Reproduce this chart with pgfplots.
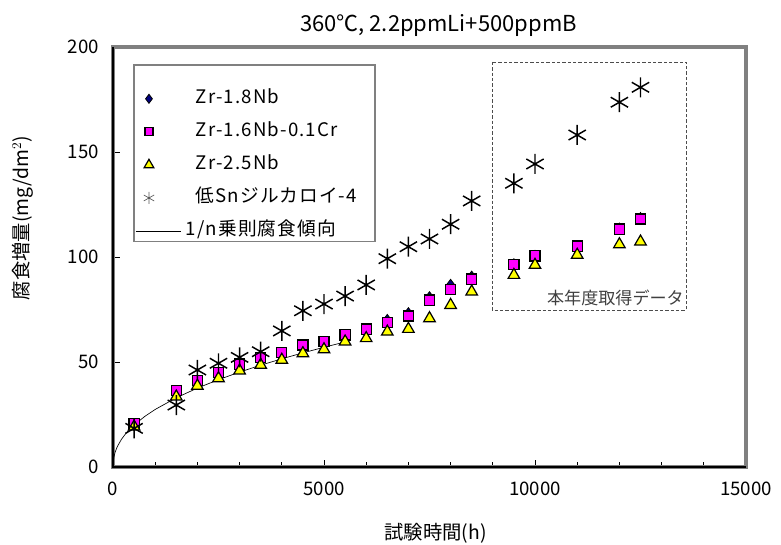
\documentclass[border=0pt]{standalone}
\usepackage{fontspec}
\setmainfont{Noto Sans CJK JP}
\usepackage{pgfplots}
\pgfplotsset{compat=1.18}
\definecolor{navyc}{RGB}{0,0,128}
\definecolor{magc}{RGB}{255,0,255}
\definecolor{yelc}{RGB}{255,255,0}
\definecolor{framec}{RGB}{128,128,128}
\pgfplotsset{
    legmark/.style={legend image code/.code={\path (0pt,-5pt) (34pt,5pt); \draw[##1, mark size=#1] plot coordinates {(10pt,0pt)};}},
    legast/.style={legend image code/.code={\path (0pt,-5pt) (34pt,5pt); \draw[##1, mark size=4.5pt, mark options={draw=black!65, line width=0.5pt}] plot coordinates {(10pt,0pt)};}},
    legline/.style={legend image code/.code={\path (0pt,-5pt) (34pt,5pt); \draw[##1] (0pt,0pt) -- (34pt,0pt);}},
}

\begin{document}
\begin{tikzpicture}[x=1pt,y=1pt]
\useasboundingbox (-84.75,-57.75) rectangle (501,350.25);
\begin{axis}[
    name=ax, at={(0,0)}, anchor=south west,
    scale only axis, width=474.75pt, height=315pt,
    xmin=0, xmax=15000, ymin=0, ymax=200,
    xtick={0,5000,10000,15000},
    minor xtick={1000,2000,3000,4000,6000,7000,8000,9000,11000,12000,13000,14000},
    ytick={0,50,100,150,200},
    xtick pos=bottom, ytick pos=left, tick align=inside,
    major tick length=5pt, minor tick length=4pt,
    tick style={black, line width=0.6pt},
    axis line style={draw=framec, line width=3pt},
    scaled x ticks=false,
    xticklabel style={font=\fontsize{14}{16}\selectfont, yshift=-7.5pt, /pgf/number format/.cd, 1000 sep={}},
    yticklabel style={font=\fontsize{14}{16}\selectfont, xshift=-7pt},
    /pgf/number format/assume math mode=true,
    clip=false,
    legend style={draw=none, fill=none, inner sep=0pt, at={(rel axis cs:0.0348,0.898)}, anchor=north west,
        font=\fontsize{14}{16}\selectfont\addfontfeature{LetterSpace=6}, row sep=11.8pt,
        nodes={inner sep=0pt, text height=10pt, text depth=3pt},
        /tikz/every odd column/.append style={column sep=11pt}},
    legend cell align=left,
]
% 1/n law trend line
\addplot[black, line width=0.5pt, forget plot] coordinates {
(0,0) (5,2.46) (20,4.62) (50,7.02) (100,9.62) (200,13.18) (300,15.85) (500,20.0)
(750,24.05) (1000,27.41) (1500,32.97) (2000,37.58) (2500,41.59) (3000,45.20)
(3500,48.48) (4000,51.52) (4500,54.35) (5000,57.02) (5500,59.55)
};
\addplot[only marks, mark=diamond*, mark size=4.2pt, mark options={fill=navyc, draw=black, line width=0.6pt}, legmark=3.4pt] coordinates {
(500,20.0) (1500,35.5) (2000,40.5) (2500,44.5) (3000,48.5) (3500,51.5) (4000,53.5)
(4500,57.0) (5000,59.0) (5500,62.0) (6000,65.5) (6500,70.0) (7000,73.2) (7500,80.8)
(8000,86.7) (8500,90.6) (9500,96.5) (10000,100.5) (11000,105.0) (12000,113.5) (12500,118.5)
};
\addlegendentry{Zr-1.8Nb}
\addplot[only marks, mark=square*, mark size=3.8pt, mark options={fill=magc, draw=black, line width=0.9pt}, legmark=3pt] coordinates {
(500,20.5) (1500,36.3) (2000,41.1) (2500,44.9) (3000,49.0) (3500,52.2) (4000,54.4)
(4500,58.1) (5000,59.7) (5500,62.9) (6000,65.7) (6500,68.9) (7000,71.9) (7500,79.5)
(8000,84.6) (8500,89.5) (9500,96.5) (10000,100.5) (11000,105.2) (12000,113.3) (12500,118.1)
};
\addlegendentry{Zr-1.6Nb-0.1Cr}
\addplot[only marks, mark=triangle*, mark size=5pt, mark options={fill=yelc, draw=black, line width=0.9pt}, legmark=4.2pt] coordinates {
(500,19.2) (1500,33.5) (2000,38.6) (2500,42.2) (3000,45.9) (3500,48.6) (4000,51.0)
(4500,54.1) (5000,56.0) (5500,59.7) (6000,61.3) (6500,64.4) (7000,65.7) (7500,70.8)
(8000,77.1) (8500,83.5) (9500,91.4) (10000,96.2) (11000,101.0) (12000,106.0) (12500,107.3)
};
\addlegendentry{Zr-2.5Nb}
\addplot[only marks, mark=asterisk, mark size=7.5pt, mark options={draw=black, line width=1.1pt}, legast] coordinates {
(500,18.4) (1500,29.5) (2000,46.2) (2500,49.4) (3000,52.2) (3500,54.9) (4000,64.8)
(4500,74.4) (5000,77.6) (5500,81.4) (6000,86.7) (6500,99.2) (7000,104.9) (7500,108.6)
(8000,115.6) (8500,126.7) (9500,135.1) (10000,144.3) (11000,158.1) (12000,173.7) (12500,180.8)
};
\addlegendentry{低Snジルカロイ-4}
\addlegendimage{black, line width=0.5pt, legline}
\addlegendentry{\hspace{-7.5pt}1/n乗則腐食傾向}
% frame accents and boxes
\draw[black, line width=0.8pt] (rel axis cs:0,1) -- (rel axis cs:0,0) -- (rel axis cs:1,0);
\draw[framec, line width=0.9pt] (rel axis cs:0.0332,0.957) rectangle (rel axis cs:0.4139,0.536);
\draw[black!70, line width=0.6pt, dash pattern=on 2.5pt off 1.5pt] (axis cs:8980,192.9) rectangle (axis cs:13580,74.8);
\node[anchor=east, text=black!75, font=\fontsize{12.8}{15}\selectfont, inner sep=0pt] at (axis cs:13530,80.5) {本年度取得データ};
\end{axis}
\node[anchor=base, font=\fontsize{16.5}{19}\selectfont] at (244.1,326.25) {360℃, 2.2ppmLi+500ppmB};
\node[anchor=base, font=\fontsize{14.5}{17}\selectfont] at (242,-54.3) {試験時間(h)};
\node[font=\fontsize{14.5}{17}\selectfont, rotate=90] at (-67.9,186.75) {腐食増量(mg/dm$^2$)};
\end{tikzpicture}
\end{document}
